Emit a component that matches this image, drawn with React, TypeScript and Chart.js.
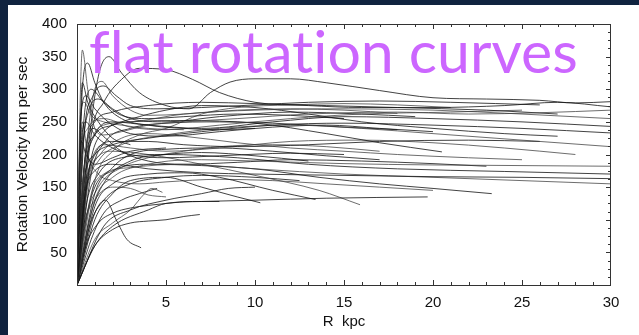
import React, { useEffect, useRef } from "react";
import { Chart, registerables } from "chart.js";

Chart.register(...registerables);

// ---- axis ticks / labels ----
const xTickValues = [0, 5, 10, 15, 20, 25, 30];
const yTickValues = [0, 50, 100, 150, 200, 250, 300, 350, 400];
const xTitle = "R  kpc";
const yTitle = "Rotation Velocity km per sec";
const overlayTitle = "flat rotation curves";

// ---- rotation curves: [R kpc, V km/s] ----
const a1 = [[0, 0], [0.15, 250], [0.3, 360], [0.6, 300], [1.0, 240], [1.5, 230], [2.5, 235], [4, 245], [6, 250], [9, 255], [13, 262], [18, 265], [22, 262], [26, 264], [30, 268]];
const a2 = [[0, 0], [0.6, 200], [1.2, 320], [1.8, 350], [2.5, 325], [3.5, 295], [5, 275], [6.3, 270], [7.5, 295], [8.6, 311], [10, 316], [12, 316], [14, 310], [17, 298], [20, 287], [23, 285], [26, 283], [28, 279], [30, 281]];
const a3 = [[0, 0], [0.8, 230], [1.5, 280], [2.5, 315], [3.5, 332], [5, 330], [6.5, 315], [8, 295], [10, 280], [13, 275], [16, 272], [20, 272], [24, 275], [27, 280], [30, 273]];
const a5 = [[0, 0], [0.5, 200], [1, 300], [1.4, 312], [2, 290], [3, 268], [4, 260], [6, 262], [9, 268], [12, 270], [15, 268], [18, 263]];
const a6 = [[0, 0], [0.4, 230], [0.9, 290], [1.5, 305], [2.2, 290], [3, 275], [4.5, 270], [7, 272], [10, 276], [13, 280], [17, 282], [21, 280], [26, 276]];
const a7 = [[0, 0], [0.3, 300], [0.6, 340], [1, 310], [1.5, 280], [2.5, 255], [4, 245], [6, 240], [8, 238], [10, 240]];
const b1 = [[0, 0], [0.3, 150], [0.8, 220], [1.5, 245], [3, 250], [6, 262], [10, 268], [15, 270], [20, 268], [25, 262], [30, 255]];
const b2 = [[0, 0], [0.5, 180], [1, 230], [2, 250], [4, 245], [7, 240], [11, 250], [15, 258], [20, 255], [25, 250], [30, 243]];
const b3 = [[0, 0], [0.4, 160], [1, 200], [2, 215], [4, 225], [7, 235], [11, 245], [15, 248], [20, 245], [25, 240], [30, 233]];
const b4 = [[0, 0], [0.6, 150], [1.2, 190], [2.5, 215], [5, 230], [8, 240], [12, 245], [16, 240], [20, 232], [25, 222], [30, 212]];
const b5 = [[0, 0], [0.3, 200], [0.7, 270], [1.2, 285], [2, 270], [3, 255], [5, 250], [8, 258], [12, 265], [16, 262], [19, 258]];
const b6 = [[0, 0], [0.5, 210], [1, 250], [2, 265], [4, 275], [7, 280], [10, 278], [14, 275], [18, 272], [23, 268], [27, 262]];
const b7 = [[0, 0], [0.2, 180], [0.6, 240], [1.5, 255], [3, 242], [5, 238], [8, 245], [12, 255], [16, 262], [21, 265], [25, 268]];
const b8 = [[0, 0], [0.8, 170], [1.6, 220], [3, 240], [5, 248], [8, 250], [11, 248], [15, 242], [18, 238]];
const b9 = [[0, 0], [0.3, 220], [0.8, 300], [1.5, 280], [2.5, 260], [4, 255], [6, 258], [9, 262], [12, 260], [15, 255]];
const b10 = [[0, 0], [1, 160], [2, 205], [3.5, 230], [5, 240], [7, 262], [9, 272], [12, 276], [15, 278], [18, 276], [21, 272]];
const b11 = [[0, 0], [0.4, 180], [1, 230], [2, 245], [3.5, 258], [5, 268], [7, 275], [10, 272], [13, 262], [16, 250], [20, 240], [24, 232], [27, 228]];
const b12 = [[0, 0], [0.2, 250], [0.5, 290], [1, 270], [2, 245], [3, 232], [5, 228], [8, 235], [11, 242], [14, 245], [17, 240], [20, 235]];
const c1 = [[0, 0], [1, 130], [2, 165], [4, 185], [7, 192], [10, 190], [15, 186], [20, 184], [25, 183], [30, 182]];
const c2 = [[0, 0], [0.5, 120], [1.2, 170], [2.5, 195], [5, 200], [9, 195], [13, 185], [18, 178], [24, 174], [30, 170]];
const c3 = [[0, 0], [0.4, 130], [1, 175], [2, 185], [4, 178], [7, 172], [10, 170], [15, 168], [20, 166], [25, 165], [30, 163]];
const c4 = [[0, 0], [0.8, 140], [1.5, 170], [3, 180], [6, 185], [10, 178], [15, 170], [20, 165], [25, 160], [30, 155]];
const c5 = [[0, 0], [0.7, 180], [1.5, 235], [3, 250], [6, 252], [10, 248], [14, 232], [17, 218], [20.5, 204]];
const c6 = [[0, 0], [0.5, 150], [1, 200], [2, 220], [4, 220], [6, 215], [9, 212], [13, 215], [17, 220], [22, 222], [26, 220]];
const c7 = [[0, 0], [0.3, 120], [0.8, 190], [1.5, 215], [3, 210], [5, 205], [8, 210], [12, 220], [16, 222], [20, 218], [24, 210], [28, 200]];
const c8 = [[0, 0], [1, 140], [2, 180], [3, 200], [5, 208], [8, 210], [11, 205], [14, 198], [17, 192]];
const c9 = [[0, 0], [0.2, 200], [0.5, 250], [1, 230], [2, 210], [3, 200], [5, 195], [8, 198], [12, 202], [15, 200]];
const c10 = [[0, 0], [0.6, 160], [1.3, 200], [2.5, 225], [4, 232], [6, 228], [9, 218], [12, 210], [15, 205], [18, 200], [22, 195], [25, 192]];
const c11 = [[0, 0], [0.8, 110], [1.6, 160], [3, 190], [5, 200], [7, 203], [10, 198], [13, 190]];
const c12 = [[0, 0], [0.4, 180], [0.9, 240], [1.6, 225], [2.5, 205], [4, 190], [6, 185], [9, 188], [12, 192], [16, 190], [20, 186], [23, 182]];
const c13 = [[0, 0], [0.5, 100], [1.2, 150], [2.5, 180], [4, 195], [6, 205], [8, 212], [11, 215], [14, 212], [17, 205]];
const d1 = [[0, 0], [1, 60], [2, 90], [4, 115], [5, 125], [7, 128], [10, 130], [14, 133], [19.7, 135]];
const d2 = [[0, 0], [0.5, 100], [1, 150], [2, 175], [4, 185], [7, 183], [10, 178], [13.6, 165], [17, 155], [20, 148], [23.3, 140]];
const d3 = [[0, 0], [0.5, 140], [1, 190], [2, 205], [4, 200], [7, 185], [10, 168], [13.6, 145], [15.9, 123]];
const d4 = [[0, 0], [1, 100], [2, 140], [3, 160], [5, 165], [7, 150], [9, 135], [10.3, 126]];
const d5 = [[0, 0], [1, 120], [2, 155], [4, 170], [6, 172], [8, 165], [11, 145], [13.4, 131]];
const d6 = [[0, 0], [0.3, 250], [0.6, 200], [1.2, 170], [2, 160], [3.5, 155], [5, 158], [8, 162], [11, 160], [14, 155], [17, 150], [20, 145]];
const d7 = [[0, 0], [0.7, 90], [1.5, 130], [3, 155], [5, 165], [7, 168], [10, 165], [12.5, 160]];
const d8 = [[0, 0], [1.5, 90], [3, 115], [5, 130], [7, 140], [8.5, 148], [10, 150]];
const d9 = [[0, 0], [0.3, 80], [1, 130], [2, 150], [3, 148], [4, 138], [5, 135]];
const e1 = [[0, 0], [0.5, 60], [1, 110], [1.6, 130], [2.2, 100], [2.8, 70], [3.6, 57]];
const e2 = [[0, 0], [1, 60], [2, 85], [3, 95], [4, 98], [5, 100], [6, 105], [6.9, 108]];
const e3 = [[0, 0], [1, 70], [2, 95], [3, 115], [3.8, 140], [4.2, 148], [4.8, 142]];
const e4 = [[0, 0], [0.5, 60], [1.2, 95], [2, 110], [3, 118], [4, 122], [5, 125], [6.5, 128], [8, 128]];
const e5 = [[0, 0], [0.8, 70], [1.5, 110], [2.5, 130], [3.5, 140], [4.5, 148]];
const s1 = [[0, 0], [0.1, 150], [0.2, 260], [0.4, 280], [0.8, 260], [1.5, 250], [2.5, 245], [4, 240], [6, 238]];
const s2 = [[0, 0], [0.1, 120], [0.25, 220], [0.5, 200], [1, 185], [2, 195], [3, 205], [5, 210]];
const s3 = [[0, 0], [0.15, 200], [0.3, 310], [0.6, 280], [1.2, 250], [2, 225], [3, 215]];

const curves = [a1, a2, a3, a5, a6, a7, b1, b2, b3, b4, b5, b6, b7, b8, b9, b10, b11, b12,
  c1, c2, c3, c4, c5, c6, c7, c8, c9, c10, c11, c12, c13, d1, d2, d3, d4, d5, d6, d7, d8, d9,
  e1, e2, e3, e4, e5, s1, s2, s3];

const frameAndTicks = {
  id: "frameAndTicks",
  afterDatasetsDraw(chart: any) {
    const { ctx, chartArea: a, scales } = chart;
    const xs = scales.x, ys = scales.y;
    ctx.save();
    ctx.strokeStyle = "#333";
    ctx.lineWidth = 1;
    ctx.strokeRect(a.left + 0.5, a.top + 0.5, a.right - a.left - 1, a.bottom - a.top);
    ctx.beginPath();
    for (let v = 1; v < 30; v++) {
      const x = Math.round(xs.getPixelForValue(v)) + 0.5;
      const len = v % 5 === 0 ? 5 : 3;
      ctx.moveTo(x, a.bottom);
      ctx.lineTo(x, a.bottom - len);
      ctx.moveTo(x, a.top);
      ctx.lineTo(x, a.top + len);
    }
    for (let v = 12.5; v < 400; v += 12.5) {
      const y = Math.round(ys.getPixelForValue(v)) + 0.5;
      const len = v % 50 === 0 ? 5 : 3;
      ctx.moveTo(a.right, y);
      ctx.lineTo(a.right - len, y);
    }
    ctx.stroke();
    ctx.restore();
  },
};

export default function App() {
  const ref = useRef<HTMLCanvasElement | null>(null);
  useEffect(() => {
    if (!ref.current) return;
    const chart = new Chart(ref.current, {
      type: "line",
      data: {
        datasets: curves.map((c, i) => ({
          label: "g" + i,
          data: c.map(([x, y]) => ({ x, y })),
          borderColor: i % 3 === 0 ? "rgba(60,60,60,0.75)" : "rgba(20,20,20,0.8)",
          borderWidth: 1,
          pointRadius: 0,
          fill: false,
          cubicInterpolationMode: "monotone" as const,
        })),
      },
      options: {
        animation: false,
        responsive: false,
        devicePixelRatio: 1,
        layout: { padding: { top: 14, right: 28, left: 0, bottom: 0 } },
        plugins: { legend: { display: false }, tooltip: { enabled: false } },
        scales: {
          x: {
            type: "linear",
            min: 0,
            max: 30,
            afterFit: (s: any) => { s.height = 50; },
            afterBuildTicks: (s: any) => { s.ticks = xTickValues.map((v) => ({ value: v })); },
            grid: { display: false, drawTicks: false },
            border: { display: false },
            ticks: {
              padding: 9,
              color: "#111",
              font: { family: "'Liberation Sans', Arial, sans-serif", size: 15 },
              callback: (v: any) => (v === 0 ? "" : String(v)),
            },
            title: {
              display: true,
              text: xTitle,
              color: "#111",
              font: { family: "'Liberation Sans', Arial, sans-serif", size: 15 },
              padding: { top: 0, bottom: 4 },
            },
          },
          y: {
            type: "linear",
            min: 0,
            max: 400,
            afterFit: (s: any) => { s.width = 69; },
            afterBuildTicks: (s: any) => { s.ticks = yTickValues.map((v) => ({ value: v })); },
            grid: { display: false, drawTicks: false },
            border: { display: false },
            ticks: {
              padding: 10,
              color: "#111",
              font: { family: "'Liberation Sans', Arial, sans-serif", size: 15 },
              callback: (v: any) => (v === 0 ? "" : String(v)),
            },
            title: {
              display: true,
              text: yTitle,
              color: "#111",
              font: { family: "'Liberation Sans', Arial, sans-serif", size: 15.5 },
              padding: { top: 5, bottom: 0 },
            },
          },
        },
      },
      plugins: [frameAndTicks],
    });
    return () => chart.destroy();
  }, []);

  return (
    <div style={{ position: "fixed", left: 0, top: 0, width: 639, height: 335, background: "#10233F", overflow: "hidden" }}>
      <div style={{ position: "absolute", left: 8, top: 5, width: 631, height: 330, background: "#ffffff" }}>
        <canvas ref={ref} width={631} height={330} style={{ display: "block", width: 631, height: 330 }} />
      </div>
      <div
        style={{
          position: "absolute",
          left: 89,
          top: 21,
          fontFamily: "Lato, 'Open Sans', sans-serif",
          fontSize: 59,
          lineHeight: "60px",
          color: "#CC66FF",
          whiteSpace: "nowrap",
          fontVariantLigatures: "none",
          pointerEvents: "none",
        }}
      >
        {overlayTitle}
      </div>
    </div>
  );
}
